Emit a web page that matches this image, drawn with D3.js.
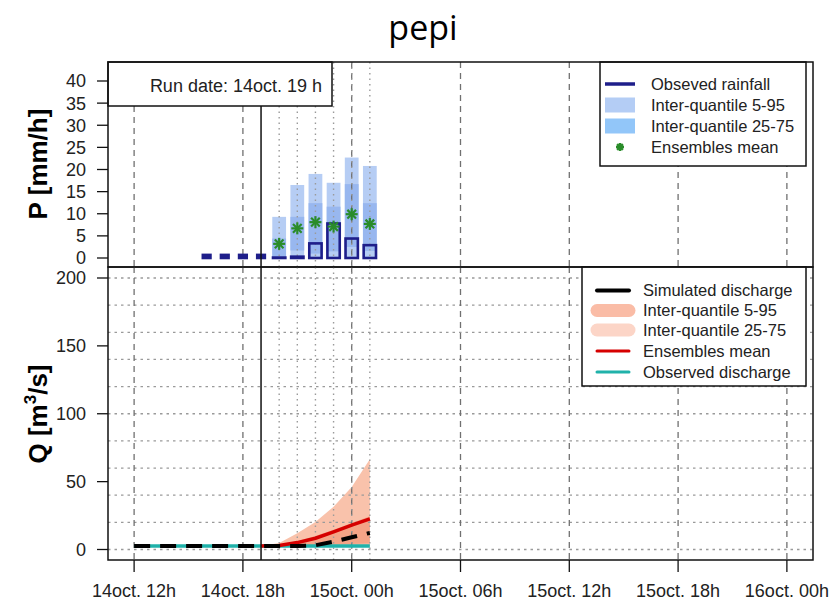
<!DOCTYPE html>
<html>
<head>
<meta charset="utf-8">
<script src="https://cdn.jsdelivr.net/npm/d3@7"></script>
<style>
  html, body { margin: 0; padding: 0; background: #fff; }
  svg { display: block; }
  text { font-family: "Liberation Sans", Arial, sans-serif; fill: #222; }
</style>
</head>
<body>
<svg id="chart" width="831" height="604"></svg>
<script>
// ---------------- DATA ----------------
// hours counted from 14oct 00h
const xTickHours  = [12, 18, 24, 30, 36, 42, 48];
const xTickLabels = ["14oct. 12h", "14oct. 18h", "15oct. 00h", "15oct. 06h", "15oct. 12h", "15oct. 18h", "16oct. 00h"];
const runHour = 19;
const runLabel = "Run date: 14oct. 19 h";
const title = "pepi";

// rainfall panel
const pTicks = [0, 5, 10, 15, 20, 25, 30, 35, 40];
const rainHours = [16, 17, 18, 19, 20, 21, 22, 23, 24, 25];
const obsRain   = [0.7, 0.7, 0.7, 0.7, 0.1, 0.3, 3.3, 7.8, 4.4, 2.9];
const fcHours   = [20, 21, 22, 23, 24, 25];
const rainQ05   = [0, 0, 0, 0, 0, 0];
const rainQ95   = [9.3, 16.5, 19.0, 17.0, 22.7, 20.8];
const rainQ25   = [0.3, 1.7, 1.0, 1.5, 2.5, 1.6];
const rainQ75   = [4.4, 9.3, 12.4, 11.6, 16.7, 12.4];
const rainMean  = [3.2, 6.7, 8.1, 7.1, 9.9, 7.7];

// discharge panel
const qTicks = [0, 50, 100, 150, 200];
const qGrid  = [0, 20, 40, 60, 80, 100, 120, 140, 160, 180, 200];
const qHours = [12, 13, 14, 15, 16, 17, 18, 19, 20, 21, 22, 23, 24, 25];
const simQ   = [2.5, 2.5, 2.5, 2.5, 2.5, 2.5, 2.5, 2.5, 2.5, 2.6, 3.1, 5.8, 9.0, 12.2];
const obsQ   = [2.5, 2.5, 2.5, 2.5, 2.5, 2.5, 2.5, 2.5, 2.5, 2.5, 2.5, 2.5, 2.5, 2.5];
const ensHours = [19, 20, 21, 22, 23, 24, 25];
const ensMean  = [2.5, 3.0, 5.1, 8.3, 13.0, 18.0, 22.5];
const ensQ05   = [2.5, 2.4, 2.4, 2.4, 2.5, 2.5, 2.5];
const ensQ95   = [2.5, 4.7, 11.9, 20.3, 31.5, 46.0, 66.5];
const ensQ25   = [2.5, 2.6, 3.0, 3.3, 3.6, 4.0, 4.5];
const ensQ75   = [2.5, 3.4, 6.3, 10.0, 14.5, 19.5, 24.5];

const rainLegend = ["Obseved rainfall", "Inter-quantile 5-95", "Inter-quantile 25-75", "Ensembles mean"];
const qLegend = ["Simulated discharge", "Inter-quantile 5-95", "Inter-quantile 25-75", "Ensembles mean", "Observed discharge"];

// ---------------- STYLE ----------------
const C = {
  navy: "#1e1e8a", bar95: "#b6cdf4", bar75: "#98b7ef",
  leg95: "#b4cdf5", leg75: "#92c6f9", star: "#2a8c2a",
  rib95: "#f9c2ab", rib75: "#f4a487", legR95: "#fabca6", legR75: "#fcd5c7",
  red: "#d60000", teal: "#20b2aa", grid: "#707070", dot: "#9a9a9a"
};
const L = 108, R = 813;
const topY0 = 62, topY1 = 267, botY0 = 267, botY1 = 560;

const svg = d3.select("#chart");
svg.append("rect").attr("width", 831).attr("height", 604).attr("fill", "#fff");

const x  = d3.scaleLinear().domain([10.56, 49.44]).range([L, R]);
const yP = d3.scaleLinear().domain([0, 40]).range([258, 81]);
const yQ = d3.scaleLinear().domain([0, 200]).range([549.5, 278]);
const hr = x(1) - x(0);

// title
svg.append("text").attr("x", 423).attr("y", 40).attr("text-anchor", "middle")
  .style("font-family", "'Open Sans', 'Noto Sans', sans-serif").style("font-size", "34px").style("fill", "#000")
  .text(title);

// ================= TOP PANEL =================
const gT = svg.append("g");
const fc = fcHours.map((h, i) => ({h, q05: rainQ05[i], q95: rainQ95[i], q25: rainQ25[i], q75: rainQ75[i], m: rainMean[i]}));
const bw = 0.76 * hr;
gT.selectAll("rect.b95").data(fc).join("rect")
  .attr("x", d => x(d.h) - bw / 2).attr("width", bw)
  .attr("y", d => yP(d.q95)).attr("height", d => yP(d.q05) - yP(d.q95))
  .attr("fill", C.bar95);
gT.selectAll("rect.b75").data(fc).join("rect")
  .attr("x", d => x(d.h) - bw / 2).attr("width", bw)
  .attr("y", d => yP(d.q75)).attr("height", d => yP(d.q25) - yP(d.q75))
  .attr("fill", C.bar75);

// grid top
xTickHours.forEach(h => {
  gT.append("line").attr("x1", x(h)).attr("x2", x(h)).attr("y1", topY0).attr("y2", topY1)
    .attr("stroke", C.grid).attr("stroke-width", 1.3).attr("stroke-dasharray", "6,5");
});
fcHours.forEach(h => {
  gT.append("line").attr("x1", x(h)).attr("x2", x(h)).attr("y1", topY0).attr("y2", topY1)
    .attr("stroke", C.dot).attr("stroke-width", 1.4).attr("stroke-dasharray", "1.5,4");
});

// observed rainfall boxes
const obs = rainHours.map((h, i) => ({h, v: obsRain[i]}));
gT.selectAll("rect.obs").data(obs).join("rect")
  .attr("x", d => x(d.h) - (d.h <= runHour ? 0.42 : 0.68) * hr / 2)
  .attr("width", d => (d.h <= runHour ? 0.42 : 0.68) * hr)
  .attr("y", d => yP(d.v)).attr("height", d => yP(0) - yP(d.v))
  .attr("fill", d => d.h <= runHour ? C.navy : "none")
  .attr("stroke", C.navy).attr("stroke-width", 2.6);

// stars (asterisk)
function star(g, cx, cy, r, sw) {
  const s = g.append("g").attr("transform", `translate(${cx},${cy})`)
    .attr("stroke", C.star).attr("stroke-width", sw).attr("stroke-linecap", "butt");
  s.append("line").attr("x1", -r).attr("x2", r).attr("y1", 0).attr("y2", 0);
  s.append("line").attr("x1", 0).attr("x2", 0).attr("y1", -r).attr("y2", r);
  const k = r * 0.72;
  s.append("line").attr("x1", -k).attr("x2", k).attr("y1", -k).attr("y2", k);
  s.append("line").attr("x1", -k).attr("x2", k).attr("y1", k).attr("y2", -k);
}
fc.forEach(d => star(gT, x(d.h), yP(d.m), 6, 2.2));

// run line top
gT.append("line").attr("x1", x(runHour)).attr("x2", x(runHour)).attr("y1", topY0).attr("y2", topY1)
  .attr("stroke", "#111").attr("stroke-width", 1.5);

// run date box
gT.append("rect").attr("x", L).attr("y", topY0).attr("width", 224).attr("height", 44)
  .attr("fill", "#fff").attr("stroke", "#111").attr("stroke-width", 1.5);
gT.append("text").attr("x", 322).attr("y", 92).attr("text-anchor", "end")
  .style("font-size", "18px").text(runLabel);

// legend top
const lgT = gT.append("g");
lgT.append("rect").attr("x", 600).attr("y", topY0).attr("width", 206).attr("height", 104)
  .attr("fill", "#fff").attr("stroke", "#111").attr("stroke-width", 1.5);
const rowT = [84, 105, 126, 147];
lgT.append("line").attr("x1", 605).attr("x2", 635).attr("y1", rowT[0]).attr("y2", rowT[0])
  .attr("stroke", C.navy).attr("stroke-width", 3.5);
lgT.append("rect").attr("x", 605).attr("y", rowT[1] - 7.5).attr("width", 30).attr("height", 15).attr("fill", C.leg95);
lgT.append("rect").attr("x", 605).attr("y", rowT[2] - 7.5).attr("width", 30).attr("height", 15).attr("fill", C.leg75);
star(lgT, 620, rowT[3], 4, 2.4);
rainLegend.forEach((t, i) => {
  lgT.append("text").attr("x", 651).attr("y", rowT[i]).attr("dy", "0.36em")
    .style("font-size", "16.5px").text(t);
});

// y axis top
pTicks.forEach(v => {
  gT.append("line").attr("x1", L - 11).attr("x2", L).attr("y1", yP(v)).attr("y2", yP(v))
    .attr("stroke", "#111").attr("stroke-width", 1.3);
  gT.append("text").attr("x", 86).attr("y", yP(v)).attr("dy", "0.36em").attr("text-anchor", "end")
    .style("font-size", "18px").text(v);
});
svg.append("text").attr("transform", `translate(47,164) rotate(-90)`).attr("text-anchor", "middle")
  .style("font-size", "26px").style("font-weight", "bold").style("fill", "#000").text("P [mm/h]");

// top border
gT.append("rect").attr("x", L).attr("y", topY0).attr("width", R - L).attr("height", topY1 - topY0)
  .attr("fill", "none").attr("stroke", "#111").attr("stroke-width", 1.5);

// ================= BOTTOM PANEL =================
const gB = svg.append("g");
const ens = ensHours.map((h, i) => ({h, m: ensMean[i], q05: ensQ05[i], q95: ensQ95[i], q25: ensQ25[i], q75: ensQ75[i]}));
gB.append("path").datum(ens)
  .attr("d", d3.area().x(d => x(d.h)).y0(d => yQ(d.q05)).y1(d => yQ(d.q95)))
  .attr("fill", C.rib95);
gB.append("path").datum(ens)
  .attr("d", d3.area().x(d => x(d.h)).y0(d => yQ(d.q25)).y1(d => yQ(d.q75)))
  .attr("fill", C.rib75);

// grid bottom
qGrid.forEach(v => {
  gB.append("line").attr("x1", L).attr("x2", R).attr("y1", yQ(v)).attr("y2", yQ(v))
    .attr("stroke", C.dot).attr("stroke-width", 1.3).attr("stroke-dasharray", "2.5,4");
});
xTickHours.forEach(h => {
  gB.append("line").attr("x1", x(h)).attr("x2", x(h)).attr("y1", botY0).attr("y2", botY1)
    .attr("stroke", C.grid).attr("stroke-width", 1.3).attr("stroke-dasharray", "6,5");
});
fcHours.forEach(h => {
  gB.append("line").attr("x1", x(h)).attr("x2", x(h)).attr("y1", botY0).attr("y2", botY1)
    .attr("stroke", C.dot).attr("stroke-width", 1.4).attr("stroke-dasharray", "1.5,4");
});

const line = d3.line().x(d => x(d.h)).y(d => yQ(d.v));
gB.append("path").datum(qHours.map((h, i) => ({h, v: obsQ[i]})))
  .attr("d", line).attr("fill", "none").attr("stroke", C.teal).attr("stroke-width", 3.5);
gB.append("path").datum(ens.map(d => ({h: d.h, v: d.m})))
  .attr("d", line).attr("fill", "none").attr("stroke", C.red).attr("stroke-width", 3.5);
gB.append("path").datum(qHours.map((h, i) => ({h, v: simQ[i]})))
  .attr("d", line).attr("fill", "none").attr("stroke", "#000").attr("stroke-width", 4)
  .attr("stroke-dasharray", "16,10");

// run line bottom
gB.append("line").attr("x1", x(runHour)).attr("x2", x(runHour)).attr("y1", botY0).attr("y2", botY1)
  .attr("stroke", "#111").attr("stroke-width", 1.5);

// legend bottom
const lgB = gB.append("g");
lgB.append("rect").attr("x", 582).attr("y", botY0).attr("width", 224).attr("height", 119)
  .attr("fill", "#fff").attr("stroke", "#111").attr("stroke-width", 1.5);
const rowB = [290.5, 310.5, 330, 351, 372];
const legSym = [
  {c: "#000", w: 4}, {c: C.legR95, w: 13}, {c: C.legR75, w: 13}, {c: C.red, w: 3}, {c: C.teal, w: 3}
];
legSym.forEach((s, i) => {
  lgB.append("line").attr("x1", 597).attr("x2", 629).attr("y1", rowB[i]).attr("y2", rowB[i])
    .attr("stroke", s.c).attr("stroke-width", s.w).attr("stroke-linecap", "round");
});
qLegend.forEach((t, i) => {
  lgB.append("text").attr("x", 643).attr("y", rowB[i]).attr("dy", "0.36em")
    .style("font-size", "16.5px").text(t);
});

// y axis bottom
qTicks.forEach(v => {
  gB.append("line").attr("x1", L - 11).attr("x2", L).attr("y1", yQ(v)).attr("y2", yQ(v))
    .attr("stroke", "#111").attr("stroke-width", 1.3);
  gB.append("text").attr("x", 86).attr("y", yQ(v)).attr("dy", "0.36em").attr("text-anchor", "end")
    .style("font-size", "18px").text(v);
});
const qt = svg.append("text").attr("transform", `translate(47,414) rotate(-90)`).attr("text-anchor", "middle")
  .style("font-size", "26px").style("font-weight", "bold").style("fill", "#000");
qt.append("tspan").text("Q [m");
qt.append("tspan").attr("dy", -11).style("font-size", "17px").text("3");
qt.append("tspan").attr("dy", 11).text("/s]");

// x axis
xTickHours.forEach((h, i) => {
  gB.append("line").attr("x1", x(h)).attr("x2", x(h)).attr("y1", botY1).attr("y2", botY1 + 12)
    .attr("stroke", "#111").attr("stroke-width", 1.3);
  gB.append("text").attr("x", x(h)).attr("y", 597).attr("text-anchor", "middle")
    .style("font-size", "18px").text(xTickLabels[i]);
});

// bottom border
gB.append("rect").attr("x", L).attr("y", botY0).attr("width", R - L).attr("height", botY1 - botY0)
  .attr("fill", "none").attr("stroke", "#111").attr("stroke-width", 1.5);
</script>
</body>
</html>
